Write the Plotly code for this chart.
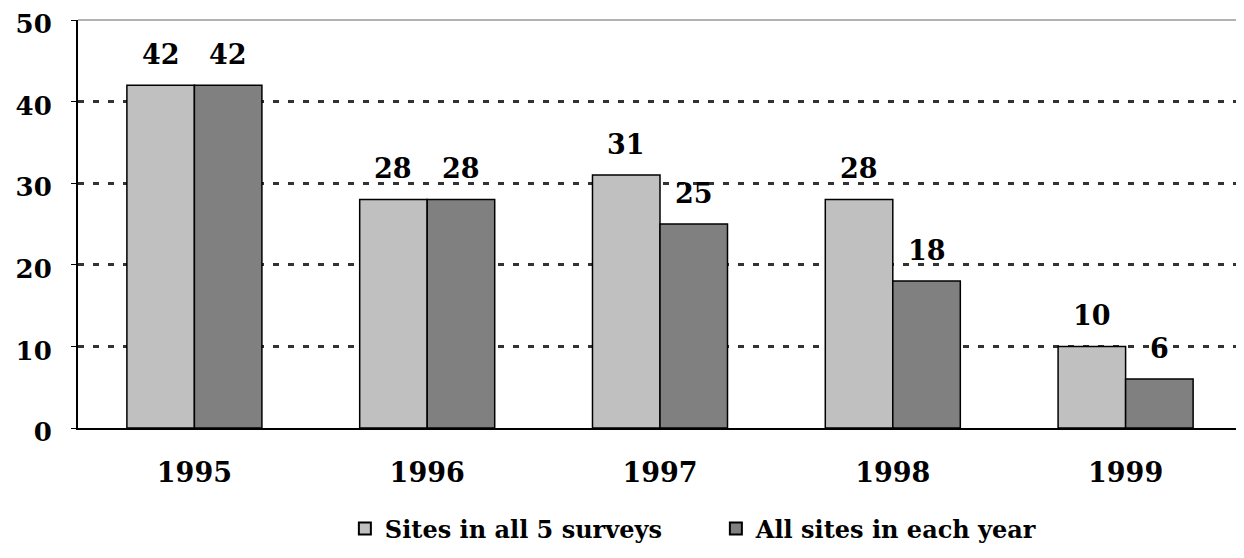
import plotly.graph_objects as go

years = ["1995", "1996", "1997", "1998", "1999"]
sites_all5 = [42, 28, 31, 28, 10]
sites_each = [42, 28, 25, 18, 6]
y_ticks = [0, 10, 20, 30, 40, 50]
series_names = ["Sites in all 5 surveys", "All sites in each year"]
series_colors = ["#C0C0C0", "#808080"]

FONT = "DejaVu Serif"
FS = 27
fig = go.Figure()
for name, vals, col in zip(series_names, [sites_all5, sites_each], series_colors):
    fig.add_trace(go.Bar(x=years, y=vals, name=name, showlegend=False,
                         marker=dict(color=col, line=dict(color="black", width=1.5))))
for name, col in zip(series_names, series_colors):
    fig.add_trace(go.Scatter(x=[None], y=[None], mode="markers", name=name,
                             marker=dict(symbol="square", size=20, color=col,
                                         line=dict(color="black", width=1.5))))

bw = 0.29
for i, (a, b) in enumerate(zip(sites_all5, sites_each)):
    for dx, v in ((-bw / 2, a), (bw / 2, b)):
        fig.add_annotation(x=i + dx, y=v, text=str(v), showarrow=False,
                           yshift=31, font=dict(family=FONT, size=FS, color="black", weight="bold"))

fig.add_shape(type="line", xref="paper", yref="paper", x0=0, x1=1, y0=1, y1=1,
              line=dict(color="#999999", width=1.5))
fig.add_shape(type="line", xref="paper", yref="paper", x0=1, x1=1, y0=0, y1=1,
              line=dict(color="#999999", width=1.5))

fig.update_layout(
    width=1244, height=558,
    margin=dict(l=70, r=10, t=12, b=138),
    plot_bgcolor="white", paper_bgcolor="white",
    barmode="group", bargap=0.42, bargroupgap=0,
    font=dict(family=FONT, size=FS, color="black", weight="bold"),
    showlegend=True,
    legend=dict(orientation="h", x=0.548, xanchor="center", y=-0.192, yanchor="top",
                font=dict(family=FONT, size=24, color="black", weight="bold"),
                itemsizing="constant", entrywidth=326, traceorder="normal",
                itemwidth=30),
    xaxis=dict(showline=True, linecolor="black", linewidth=2, ticks="", showgrid=False,
               automargin=False, range=[-0.5, 4.5],
               tickfont=dict(family=FONT, size=FS, weight="bold"), ticklabelstandoff=20),
    yaxis=dict(range=[0, 50], tickvals=y_ticks, showline=True, linecolor="black", linewidth=2,
               ticks="outside", ticklen=5, tickcolor="black", automargin=False,
               ticklabeloverflow="allow", ticklabelshift=4,
               showgrid=True, gridcolor="#333333", gridwidth=3, griddash="6px,9px",
               zeroline=False, tickfont=dict(family=FONT, size=26, weight="bold"),
               ticklabelstandoff=14),
)
fig.write_html("out.html")
